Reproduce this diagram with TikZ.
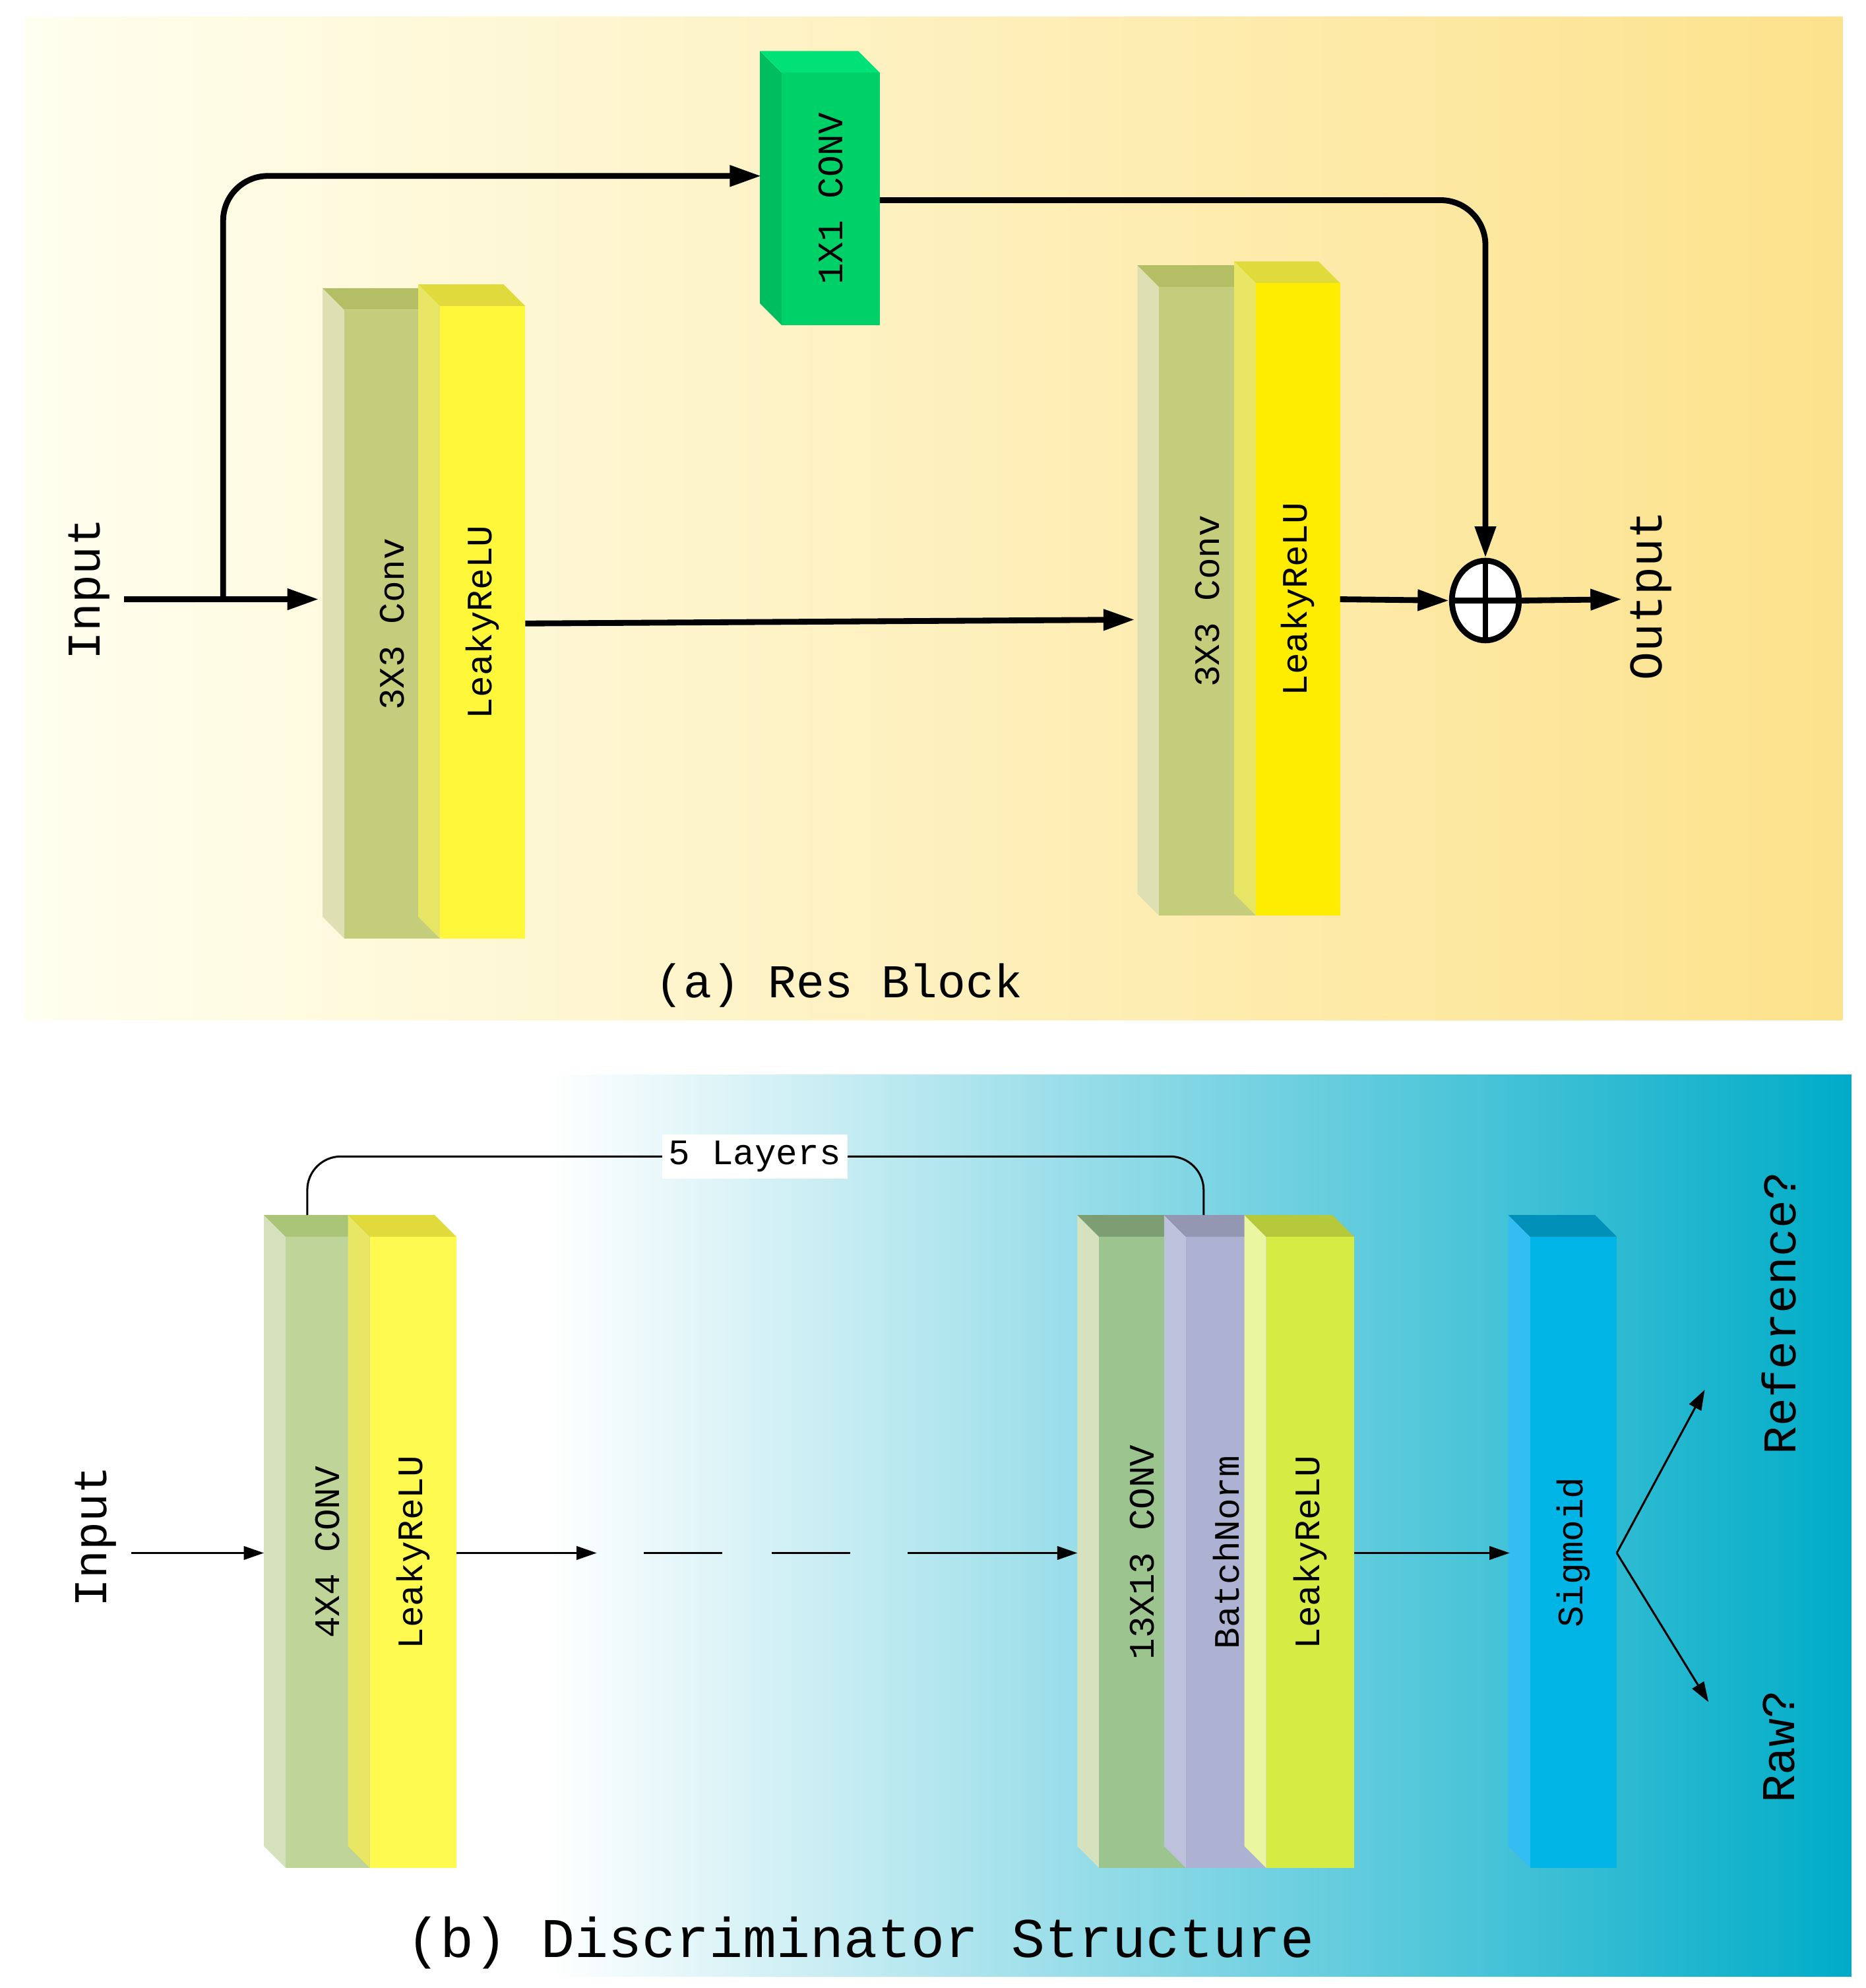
\documentclass[tikz,border=0pt]{standalone}
\usepackage{fontspec}
\setmainfont{Liberation Mono}
\usetikzlibrary{arrows.meta,shapes.geometric}
\begin{document}
\begin{tikzpicture}[x=0.02cm,y=-0.02cm,
  thk/.style={line width=2.6pt,-{Triangle[length=14pt,width=9pt]}},
  thn/.style={line width=0.9pt,-{Triangle[length=9pt,width=6pt]}},
  lab/.style={rotate=90,font=\fontsize{16}{16}\selectfont},
  big/.style={font=\fontsize{21}{21}\selectfont}]
\useasboundingbox (0,0) rectangle (1463,1559.2);
\fill[white] (0,0) rectangle (1463,1559.2);
\shade[left color=yellow!6!white, right color={rgb,255:red,253;green,226;blue,140}] (20,13) rectangle (1445,800);
\shade[left color=white, right color={rgb,255:red,0;green,172;blue,200}] (430,843) rectangle (1452,1550);
\fill[white] (20,843) rectangle (430,1550);
% block macro
\newcommand{\blk}[9]{%
 \fill[#7] (#2,#3) -- (#2-17,#3-17) -- (#2-17,#5-17) -- (#2,#5) -- cycle;
 \fill[#8] (#2,#3) -- (#4,#3) -- (#4-17,#3-17) -- (#2-17,#3-17) -- cycle;
 \node[fill=#6,inner sep=0,minimum width={(#4-#2)*0.02cm},minimum height={(#5-#3)*0.02cm}] (#1) at ({(#2+#4)/2},{(#3+#5)/2}) {};
 \node[lab] at (#1) {#9};}
\definecolor{cv}{RGB}{196,205,124}\definecolor{cvs}{RGB}{222,224,180}\definecolor{cvt}{RGB}{180,190,100}
\definecolor{ye}{RGB}{255,248,58}\definecolor{yes}{RGB}{232,230,100}\definecolor{yet}{RGB}{224,218,60}
\definecolor{gr}{RGB}{0,208,104}\definecolor{grs}{RGB}{0,190,96}\definecolor{grt}{RGB}{0,225,120}
\blk{c1}{270}{243}{345}{736}{cv}{cvs}{cvt}{3X3 Conv}
\blk{r1}{345}{240}{412}{736}{ye}{yes}{yet}{LeakyReLU}
\blk{c11}{613}{57}{690}{255}{gr}{grs}{grt}{1X1 CONV}
\blk{c2}{909}{225}{985}{718}{cv}{cvs}{cvt}{3X3 Conv}
\blk{r2}{985}{222}{1051}{718}{yellow!95!orange}{yes}{yet}{LeakyReLU}
\node[lab,font=\fontsize{21}{21}\selectfont] (in1) at (70,462) {Input};
\node[lab,font=\fontsize{21}{21}\selectfont] (out1) at (1295,467) {Output};
\node[draw,line width=2.6pt,fill=white,ellipse,minimum width=1.05cm,minimum height=1.25cm,inner sep=0] (sum) at (1165,471) {};
\draw[line width=2.6pt] (sum.north)--(sum.south) (sum.west)--(sum.east);
\coordinate (a0) at (97,470);
\draw[thk] (a0) -- (250,470);
\draw[thk,rounded corners=20] (175,470) -- (175,138) -- (597,138);
\draw[thk,rounded corners=20] (690,157) -- (1165,157) -- (sum.north);
\draw[thk] (412,489) -- (890,486);
\draw[thk] (1051,470) -- (sum.west);
\draw[thk] (sum.east) -- (1272,470);
\node[big] at (658,773) {(a) Res Block};
% bottom
\definecolor{cb}{RGB}{190,212,152}\definecolor{cbs}{RGB}{214,226,190}\definecolor{cbt}{RGB}{170,196,120}
\definecolor{yb}{RGB}{255,250,80}
\definecolor{gc}{RGB}{156,196,143}\definecolor{bn}{RGB}{173,178,210}\definecolor{lg}{RGB}{214,236,68}
\definecolor{sg}{RGB}{0,180,230}
\blk{c4}{224}{970}{290}{1465}{cb}{cbs}{cbt}{4X4 CONV}
\blk{r4}{290}{970}{358}{1465}{yb}{yes}{yet}{LeakyReLU}
\blk{c13}{862}{970}{930}{1465}{gc}{cbs}{gc!80!black}{13X13 CONV}
\blk{bnm}{930}{970}{993}{1465}{bn}{bn!80}{bn!85!black}{BatchNorm}
\blk{r5}{993}{970}{1062}{1465}{lg}{lg!50!white}{lg!85!black}{LeakyReLU}
\blk{sig}{1200}{970}{1268}{1465}{sg}{cyan!80!white}{sg!80!black}{Sigmoid}
\draw[line width=0.9pt,rounded corners=15] (241,953) -- (241,907) -- (944,907) -- (944,953);
\node[fill=white,font=\fontsize{16}{16}\selectfont,inner sep=3pt] at (592,907) {5 Layers};
\node[lab,font=\fontsize{21}{21}\selectfont] at (75,1205) {Input};
\node[lab,font=\fontsize{21}{21}\selectfont] (ref) at (1395,1030) {Reference?};
\node[lab,font=\fontsize{21}{21}\selectfont] (raw) at (1395,1370) {Raw?};
\draw[thn] (103,1218) -- (207,1218);
\draw[thn] (358,1218) -- (468,1218);
\draw[line width=0.9pt,dash pattern=on 35pt off 22pt] (505,1218) -- (680,1218);
\draw[thn] (712,1218) -- (845,1218);
\draw[thn] (1062,1218) -- (1184,1218);
\coordinate (sp) at (1268,1218);
\draw[thn] (sp) -- (1337,1090);
\draw[thn] (sp) -- (1340,1335);
\node[font=\fontsize{25}{25}\selectfont] at (675,1524) {(b) Discriminator Structure};
\end{tikzpicture}
\end{document}
